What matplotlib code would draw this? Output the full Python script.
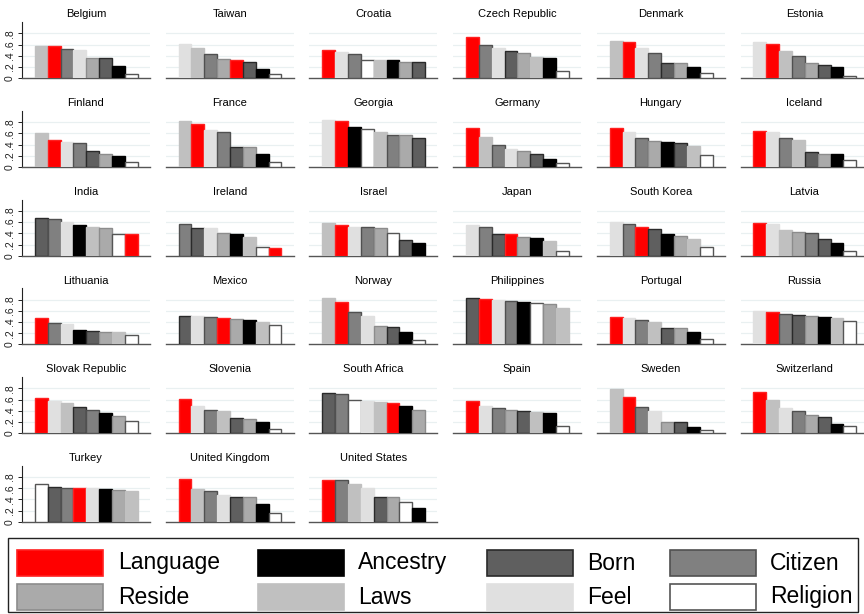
import numpy as np
import matplotlib
matplotlib.use('Agg')
import matplotlib.pyplot as plt
from matplotlib.patches import Rectangle

plt.rcParams['font.family'] = ['Liberation Sans', 'DejaVu Sans']

categories = ['Language', 'Ancestry', 'Born', 'Citizen', 'Reside', 'Laws', 'Feel', 'Religion']
fills = ['#ff0000', '#000000', '#5f5f5f', '#808080', '#aaaaaa', '#c0c0c0', '#e0e0e0', '#ffffff']
edges = ['#ff2020', '#000000', '#2a2a2a', '#505050', '#8c8c8c', '#c0c0c0', '#e0e0e0', '#555555']

countries = ['Belgium', 'Taiwan', 'Croatia', 'Czech Republic', 'Denmark', 'Estonia',
             'Finland', 'France', 'Georgia', 'Germany', 'Hungary', 'Iceland',
             'India', 'Ireland', 'Israel', 'Japan', 'South Korea', 'Latvia',
             'Lithuania', 'Mexico', 'Norway', 'Philippines', 'Portugal', 'Russia',
             'Slovak Republic', 'Slovenia', 'South Africa', 'Spain', 'Sweden', 'Switzerland',
             'Turkey', 'United Kingdom', 'United States']

# share answering "very important", columns follow `categories`
values = [
    [.57, .22, .36, .52, .37, .58, .51, .08],   # Belgium
    [.32, .16, .30, .43, .34, .55, .61, .07],   # Taiwan
    [.50, .325, .295, .43, .30, .33, .47, .335],  # Croatia
    [.74, .36, .48, .60, .46, .38, .54, .13],   # Czech Republic
    [.65, .21, .28, .45, .27, .67, .54, .09],   # Denmark
    [.62, .20, .24, .39, .27, .48, .65, .05],   # Estonia
    [.48, .20, .28, .43, .23, .61, .45, .09],   # Finland
    [.76, .24, .36, .63, .35, .83, .66, .09],   # France
    [.82, .71, .51, .58, .57, .63, .84, .68],   # Georgia
    [.70, .15, .24, .40, .29, .54, .33, .08],   # Germany
    [.70, .45, .42, .51, .47, .38, .62, .21],   # Hungary
    [.635, .23, .26, .51, .24, .48, .63, .12],  # Iceland
    [.38, .54, .67, .65, .49, .52, .60, .39],   # India
    [.13, .38, .495, .57, .40, .33, .49, .15],  # Ireland
    [.55, .22, .28, .51, .49, .59, .52, .40],   # Israel
    [.385, .32, .39, .52, .33, .27, .54, .08],  # Japan
    [.52, .38, .48, .57, .35, .30, .60, .15],   # South Korea
    [.58, .23, .30, .40, .43, .46, .57, .08],   # Latvia
    [.48, .26, .24, .38, .225, .22, .37, .17],  # Lithuania
    [.48, .44, .515, .49, .46, .40, .51, .35],  # Mexico
    [.76, .23, .31, .58, .33, .83, .51, .08],   # Norway
    [.81, .76, .83, .78, .73, .65, .80, .74],   # Philippines
    [.49, .23, .30, .43, .29, .40, .48, .10],   # Portugal
    [.58, .49, .52, .54, .51, .48, .59, .41],   # Russia
    [.63, .36, .47, .42, .30, .54, .57, .22],   # Slovak Republic
    [.61, .19, .27, .42, .26, .40, .49, .08],   # Slovenia
    [.54, .48, .71, .70, .42, .56, .58, .60],   # South Africa
    [.57, .365, .39, .44, .41, .37, .48, .13],  # Spain
    [.65, .11, .19, .46, .20, .78, .39, .05],   # Sweden
    [.73, .17, .28, .40, .33, .59, .44, .12],   # Switzerland
    [.60, .59, .62, .61, .56, .55, .595, .67],  # Turkey
    [.77, .32, .45, .55, .445, .59, .48, .15],  # United Kingdom
    [.745, .24, .44, .74, .435, .67, .61, .35], # United States
]

yticks = [0, .2, .4, .6, .8]
ytick_labels = ['0', '.2', '.4', '.6', '.8']

W, H = 864, 614
fig = plt.figure(figsize=(W / 100, H / 100), dpi=100)

ncols = 6
for i, (name, row) in enumerate(zip(countries, values)):
    r, c = divmod(i, ncols)
    left = 22 + 143.7 * c
    base = 78.3 + 88.7 * r
    ax = fig.add_axes([left / W, 1 - base / H, 128 / W, 56 / H])
    order = np.argsort(row)[::-1]
    for pos, k in enumerate(order):
        ax.bar(pos, row[k], width=1.0, color=fills[k], edgecolor=edges[k], linewidth=1.0, zorder=3)
    ax.set_xlim(-1.5, 8.45)
    ax.set_ylim(0, 1.0)
    ax.set_yticks(yticks)
    for y in yticks[1:]:
        ax.axhline(y, color='#e9f0f1', linewidth=0.9, zorder=1)
    ax.set_xticks([])
    for s in ['top', 'right']:
        ax.spines[s].set_visible(False)
    ax.spines['bottom'].set_color('#555555')
    ax.spines['bottom'].set_linewidth(1.0)
    if c == 0:
        ax.spines['left'].set_color('#222222')
        ax.spines['left'].set_linewidth(0.8)
        ax.set_yticklabels(ytick_labels, rotation=90, va='center', fontsize=7.5)
        ax.tick_params(axis='y', length=3, width=0.7, pad=2, colors='#222222')
    else:
        ax.spines['left'].set_visible(False)
        ax.tick_params(axis='y', left=False, labelleft=False)
    ax.set_title(name, fontsize=8, pad=3.5)

# legend box along the bottom
lax = fig.add_axes([0, 0, 1, 1], zorder=-1)
lax.set_xlim(0, W)
lax.set_ylim(H, 0)
lax.axis('off')
lax.add_patch(Rectangle((8, 538), 850, 74, facecolor='white', edgecolor='#222222', linewidth=1.0))
sw_x = [17, 258, 487, 670]
txt_x = [118, 358, 587, 770]
row_y = [563, 597]
for k, cat in enumerate(categories):
    rr, cc = divmod(k, 4)
    lax.add_patch(Rectangle((sw_x[cc], row_y[rr] - 13), 86, 26, facecolor=fills[k],
                            edgecolor=edges[k], linewidth=1.2))
    lax.text(txt_x[cc], row_y[rr], cat, fontsize=16.5, va='center', ha='left')

fig.savefig('out.png', dpi=100)
